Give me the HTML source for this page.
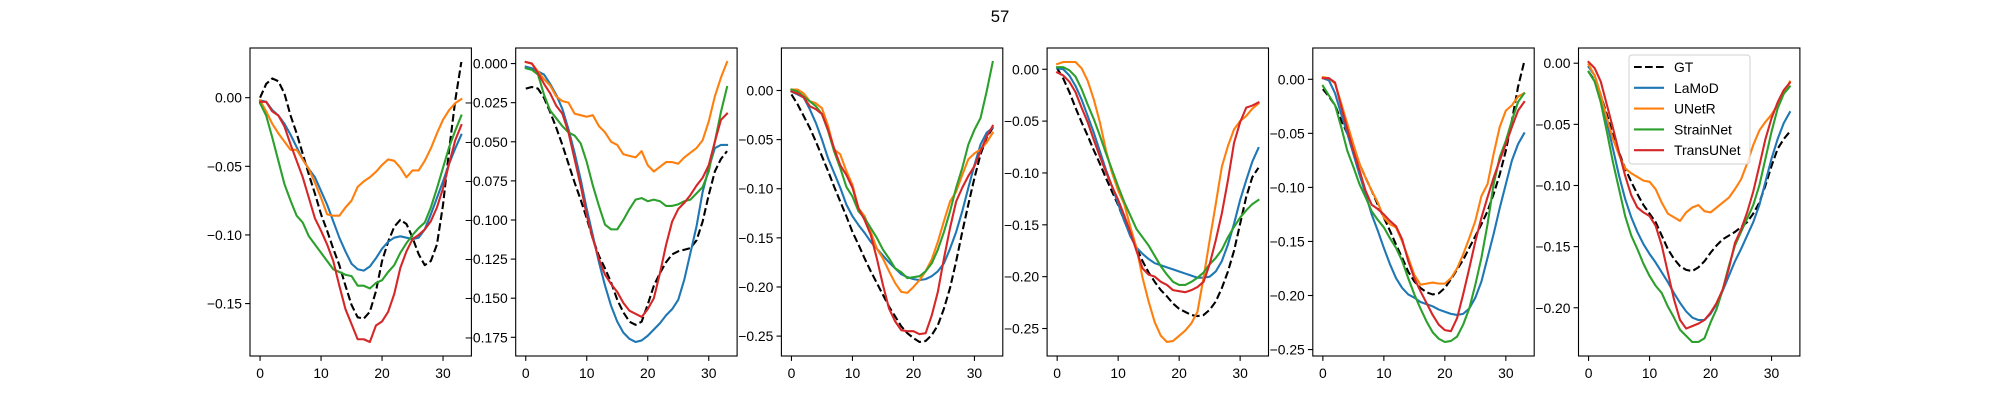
<!DOCTYPE html>
<html><head><meta charset="utf-8"><style>
html,body{margin:0;padding:0;background:#fff;}
svg{display:block;font-family:"Liberation Sans","DejaVu Sans",sans-serif;}
</style></head><body>
<svg id="fig" width="2000" height="400" viewBox="0 0 2000 400">
<rect width="2000" height="400" fill="#fff"/>
<text x="1000" y="22" text-anchor="middle" font-size="16.7">57</text>
</svg>
<script>
const seriesNames = ["GT","LaMoD","UNetR","StrainNet","TransUNet"];
const seriesColors = ["#000000","#1f77b4","#ff7f0e","#2ca02c","#d62728"];
const xTicks = [0,10,20,30];
const yTickSteps = [0.05,0.025,0.05,0.05,0.05,0.05];
const yTickDecimals = [2,3,2,2,2,2];

const p1GT = [0.000,0.010,0.014,0.012,0.003,-0.013,-0.026,-0.041,-0.056,-0.070,-0.085,-0.097,-0.110,-0.122,-0.137,-0.151,-0.160,-0.161,-0.156,-0.141,-0.119,-0.105,-0.094,-0.089,-0.092,-0.102,-0.114,-0.122,-0.119,-0.107,-0.078,-0.038,-0.002,0.026];
const p1LaMoD = [-0.002,-0.003,-0.009,-0.013,-0.019,-0.027,-0.036,-0.045,-0.052,-0.058,-0.068,-0.078,-0.090,-0.102,-0.112,-0.121,-0.125,-0.126,-0.123,-0.117,-0.110,-0.105,-0.102,-0.101,-0.102,-0.103,-0.102,-0.096,-0.085,-0.073,-0.061,-0.048,-0.037,-0.027];
const p1UNetR = [-0.002,-0.010,-0.019,-0.026,-0.032,-0.038,-0.038,-0.045,-0.052,-0.062,-0.073,-0.085,-0.086,-0.086,-0.080,-0.075,-0.065,-0.061,-0.058,-0.054,-0.049,-0.045,-0.046,-0.051,-0.058,-0.053,-0.053,-0.046,-0.037,-0.026,-0.016,-0.009,-0.004,-0.001];
const p1StrainNet = [-0.004,-0.013,-0.029,-0.046,-0.063,-0.075,-0.086,-0.091,-0.101,-0.107,-0.113,-0.119,-0.125,-0.127,-0.129,-0.130,-0.137,-0.137,-0.139,-0.135,-0.133,-0.127,-0.122,-0.113,-0.106,-0.100,-0.095,-0.091,-0.080,-0.066,-0.051,-0.036,-0.024,-0.013];
const p1TransUNet = [-0.003,-0.003,-0.010,-0.013,-0.021,-0.034,-0.046,-0.058,-0.073,-0.088,-0.097,-0.107,-0.119,-0.137,-0.154,-0.165,-0.176,-0.176,-0.178,-0.166,-0.163,-0.156,-0.143,-0.124,-0.112,-0.103,-0.100,-0.096,-0.090,-0.080,-0.066,-0.048,-0.031,-0.020];

const p2GT = [-0.016,-0.015,-0.016,-0.022,-0.031,-0.041,-0.052,-0.064,-0.076,-0.087,-0.099,-0.112,-0.123,-0.131,-0.140,-0.151,-0.159,-0.165,-0.167,-0.165,-0.154,-0.142,-0.134,-0.127,-0.122,-0.120,-0.119,-0.118,-0.113,-0.101,-0.084,-0.069,-0.061,-0.056];
const p2LaMoD = [-0.002,-0.003,-0.005,-0.007,-0.013,-0.020,-0.029,-0.042,-0.057,-0.074,-0.093,-0.110,-0.127,-0.142,-0.155,-0.165,-0.172,-0.176,-0.178,-0.177,-0.174,-0.170,-0.166,-0.161,-0.157,-0.151,-0.138,-0.121,-0.104,-0.082,-0.067,-0.054,-0.052,-0.052];
const p2UNetR = [0.001,0.000,-0.005,-0.010,-0.014,-0.021,-0.024,-0.025,-0.032,-0.033,-0.034,-0.033,-0.040,-0.044,-0.050,-0.052,-0.058,-0.059,-0.060,-0.056,-0.065,-0.069,-0.066,-0.063,-0.063,-0.064,-0.060,-0.057,-0.054,-0.049,-0.037,-0.021,-0.009,0.001];
const p2StrainNet = [-0.003,-0.004,-0.007,-0.020,-0.030,-0.035,-0.040,-0.044,-0.046,-0.051,-0.063,-0.078,-0.091,-0.103,-0.106,-0.106,-0.100,-0.093,-0.087,-0.086,-0.088,-0.087,-0.088,-0.091,-0.091,-0.090,-0.088,-0.087,-0.083,-0.079,-0.069,-0.050,-0.031,-0.015];
const p2TransUNet = [0.001,0.000,-0.006,-0.013,-0.019,-0.027,-0.032,-0.044,-0.061,-0.078,-0.097,-0.112,-0.125,-0.135,-0.141,-0.146,-0.153,-0.158,-0.160,-0.162,-0.157,-0.150,-0.134,-0.116,-0.101,-0.093,-0.089,-0.084,-0.078,-0.073,-0.065,-0.050,-0.036,-0.032];

const p3GT = [-0.004,-0.014,-0.026,-0.038,-0.052,-0.067,-0.082,-0.098,-0.113,-0.128,-0.144,-0.157,-0.171,-0.184,-0.196,-0.208,-0.220,-0.230,-0.240,-0.247,-0.252,-0.256,-0.255,-0.249,-0.239,-0.222,-0.201,-0.174,-0.144,-0.116,-0.089,-0.065,-0.048,-0.038];
const p3LaMoD = [-0.001,-0.004,-0.007,-0.019,-0.033,-0.050,-0.069,-0.084,-0.099,-0.116,-0.128,-0.137,-0.145,-0.154,-0.161,-0.168,-0.175,-0.181,-0.187,-0.190,-0.192,-0.193,-0.192,-0.189,-0.184,-0.176,-0.161,-0.144,-0.123,-0.099,-0.076,-0.055,-0.043,-0.038];
const p3UNetR = [0.001,0.001,-0.003,-0.011,-0.013,-0.018,-0.036,-0.060,-0.065,-0.082,-0.096,-0.120,-0.128,-0.144,-0.161,-0.171,-0.184,-0.196,-0.205,-0.206,-0.200,-0.193,-0.184,-0.172,-0.154,-0.133,-0.113,-0.103,-0.086,-0.070,-0.064,-0.060,-0.053,-0.043];
const p3StrainNet = [0.001,-0.001,-0.006,-0.011,-0.016,-0.024,-0.041,-0.062,-0.079,-0.098,-0.108,-0.123,-0.130,-0.140,-0.150,-0.162,-0.171,-0.181,-0.185,-0.191,-0.190,-0.189,-0.184,-0.176,-0.162,-0.144,-0.123,-0.099,-0.079,-0.055,-0.040,-0.028,-0.001,0.029];
const p3TransUNet = [-0.001,-0.003,-0.007,-0.016,-0.019,-0.024,-0.040,-0.059,-0.076,-0.086,-0.099,-0.120,-0.132,-0.147,-0.171,-0.198,-0.222,-0.235,-0.244,-0.245,-0.245,-0.248,-0.247,-0.229,-0.205,-0.171,-0.140,-0.113,-0.099,-0.087,-0.077,-0.062,-0.047,-0.036];

const p4GT = [0.001,-0.009,-0.022,-0.037,-0.051,-0.064,-0.078,-0.091,-0.105,-0.118,-0.131,-0.146,-0.159,-0.172,-0.185,-0.196,-0.205,-0.213,-0.219,-0.226,-0.231,-0.234,-0.237,-0.238,-0.237,-0.232,-0.224,-0.211,-0.195,-0.175,-0.149,-0.123,-0.104,-0.095];
const p4LaMoD = [0.001,0.000,-0.006,-0.016,-0.029,-0.045,-0.061,-0.079,-0.097,-0.113,-0.130,-0.146,-0.161,-0.172,-0.178,-0.183,-0.187,-0.189,-0.191,-0.193,-0.195,-0.197,-0.199,-0.201,-0.201,-0.200,-0.195,-0.185,-0.169,-0.149,-0.126,-0.107,-0.089,-0.076];
const p4UNetR = [0.005,0.007,0.007,0.007,0.001,-0.011,-0.029,-0.051,-0.078,-0.100,-0.117,-0.130,-0.152,-0.172,-0.201,-0.224,-0.244,-0.257,-0.263,-0.262,-0.257,-0.252,-0.245,-0.234,-0.201,-0.165,-0.130,-0.094,-0.074,-0.058,-0.050,-0.045,-0.038,-0.033];
const p4StrainNet = [0.002,0.002,-0.001,-0.007,-0.019,-0.034,-0.048,-0.064,-0.081,-0.097,-0.113,-0.128,-0.141,-0.154,-0.162,-0.170,-0.180,-0.190,-0.198,-0.205,-0.208,-0.208,-0.205,-0.201,-0.196,-0.188,-0.182,-0.174,-0.162,-0.152,-0.143,-0.136,-0.130,-0.126];
const p4TransUNet = [-0.003,-0.006,-0.012,-0.022,-0.037,-0.051,-0.068,-0.084,-0.099,-0.113,-0.126,-0.141,-0.157,-0.175,-0.192,-0.198,-0.200,-0.205,-0.208,-0.213,-0.214,-0.215,-0.213,-0.210,-0.205,-0.188,-0.165,-0.139,-0.107,-0.071,-0.051,-0.037,-0.035,-0.032];

const p5GT = [-0.009,-0.016,-0.024,-0.038,-0.050,-0.063,-0.078,-0.091,-0.103,-0.116,-0.128,-0.140,-0.153,-0.165,-0.178,-0.187,-0.193,-0.197,-0.199,-0.198,-0.193,-0.185,-0.176,-0.167,-0.156,-0.145,-0.134,-0.122,-0.106,-0.088,-0.066,-0.038,-0.007,0.016];
const p5LaMoD = [0.001,-0.001,-0.013,-0.032,-0.050,-0.069,-0.088,-0.106,-0.125,-0.140,-0.156,-0.171,-0.184,-0.193,-0.199,-0.202,-0.206,-0.208,-0.210,-0.213,-0.215,-0.217,-0.218,-0.217,-0.212,-0.202,-0.187,-0.165,-0.143,-0.119,-0.097,-0.075,-0.060,-0.050];
const p5UNetR = [0.002,0.001,-0.004,-0.022,-0.041,-0.060,-0.078,-0.091,-0.103,-0.114,-0.128,-0.134,-0.137,-0.150,-0.165,-0.181,-0.190,-0.189,-0.188,-0.189,-0.189,-0.184,-0.175,-0.162,-0.147,-0.131,-0.108,-0.097,-0.069,-0.044,-0.029,-0.024,-0.016,-0.013];
const p5StrainNet = [-0.006,-0.015,-0.024,-0.044,-0.066,-0.081,-0.097,-0.109,-0.122,-0.130,-0.137,-0.147,-0.156,-0.168,-0.184,-0.199,-0.212,-0.224,-0.234,-0.240,-0.243,-0.242,-0.238,-0.227,-0.212,-0.190,-0.165,-0.134,-0.097,-0.072,-0.057,-0.038,-0.021,-0.013];
const p5TransUNet = [0.001,0.001,-0.003,-0.025,-0.046,-0.066,-0.084,-0.103,-0.116,-0.120,-0.125,-0.131,-0.136,-0.148,-0.168,-0.184,-0.196,-0.207,-0.218,-0.227,-0.232,-0.233,-0.221,-0.199,-0.175,-0.150,-0.128,-0.109,-0.091,-0.075,-0.060,-0.044,-0.029,-0.021];

const p6GT = [-0.007,-0.014,-0.026,-0.042,-0.059,-0.073,-0.086,-0.097,-0.107,-0.116,-0.123,-0.130,-0.141,-0.152,-0.160,-0.166,-0.169,-0.170,-0.167,-0.162,-0.155,-0.149,-0.144,-0.141,-0.138,-0.134,-0.130,-0.123,-0.114,-0.100,-0.084,-0.070,-0.062,-0.056];
const p6LaMoD = [-0.003,-0.010,-0.026,-0.048,-0.070,-0.092,-0.111,-0.126,-0.138,-0.148,-0.156,-0.163,-0.171,-0.179,-0.188,-0.196,-0.203,-0.208,-0.210,-0.210,-0.205,-0.197,-0.186,-0.174,-0.162,-0.152,-0.141,-0.130,-0.116,-0.097,-0.078,-0.062,-0.049,-0.040];
const p6UNetR = [-0.001,-0.010,-0.026,-0.045,-0.062,-0.075,-0.086,-0.090,-0.093,-0.096,-0.097,-0.103,-0.114,-0.123,-0.126,-0.129,-0.122,-0.118,-0.116,-0.121,-0.122,-0.118,-0.114,-0.110,-0.103,-0.095,-0.082,-0.067,-0.055,-0.048,-0.042,-0.034,-0.025,-0.015];
const p6StrainNet = [-0.007,-0.015,-0.032,-0.056,-0.081,-0.103,-0.125,-0.141,-0.152,-0.164,-0.174,-0.182,-0.188,-0.199,-0.208,-0.218,-0.223,-0.228,-0.228,-0.225,-0.212,-0.201,-0.185,-0.166,-0.149,-0.138,-0.127,-0.116,-0.100,-0.078,-0.056,-0.037,-0.025,-0.019];
const p6TransUNet = [0.001,-0.004,-0.015,-0.034,-0.053,-0.073,-0.092,-0.108,-0.118,-0.122,-0.125,-0.133,-0.149,-0.171,-0.193,-0.210,-0.217,-0.215,-0.213,-0.210,-0.204,-0.196,-0.185,-0.168,-0.147,-0.136,-0.122,-0.105,-0.084,-0.062,-0.045,-0.032,-0.022,-0.016];

const panels = [
  [p1GT,p1LaMoD,p1UNetR,p1StrainNet,p1TransUNet],
  [p2GT,p2LaMoD,p2UNetR,p2StrainNet,p2TransUNet],
  [p3GT,p3LaMoD,p3UNetR,p3StrainNet,p3TransUNet],
  [p4GT,p4LaMoD,p4UNetR,p4StrainNet,p4TransUNet],
  [p5GT,p5LaMoD,p5UNetR,p5StrainNet,p5TransUNet],
  [p6GT,p6LaMoD,p6UNetR,p6StrainNet,p6TransUNet]
];

const NS = "http://www.w3.org/2000/svg";
const svg = document.getElementById("fig");
function mk(tag, attrs, parent) {
  const e = document.createElementNS(NS, tag);
  for (const k in attrs) e.setAttribute(k, attrs[k]);
  (parent || svg).appendChild(e);
  return e;
}
const AX_W = 221.4, AX_GAP = 44.3, AX_TOP = 48, AX_H = 308, AX_LEFT0 = 250;
const FS = 13.9;

panels.forEach((series, p) => {
  const left = AX_LEFT0 + p * (AX_W + AX_GAP);
  const g = mk("g", {});
  
  
  const n = series[0].length;
  const xmin = 0, xmax = n - 1;
  const xpad = (xmax - xmin) * 0.05;
  const x0 = xmin - xpad, x1 = xmax + xpad;
  let ymin = Infinity, ymax = -Infinity;
  series.forEach(s => s.forEach(v => { if (v < ymin) ymin = v; if (v > ymax) ymax = v; }));
  const ypad = (ymax - ymin) * 0.05;
  const y0 = ymin - ypad, y1 = ymax + ypad;
  const sx = v => left + (v - x0) / (x1 - x0) * AX_W;
  const sy = v => AX_TOP + (y1 - v) / (y1 - y0) * AX_H;

  const clipId = "clip" + p;
  const cp = mk("clipPath", { id: clipId }, g);
  mk("rect", { x: left, y: AX_TOP, width: AX_W, height: AX_H }, cp);

  const lines = mk("g", { "clip-path": "url(#" + clipId + ")" }, g);
  series.forEach((s, k) => {
    const d = s.map((v, i) => (i ? "L" : "M") + sx(i).toFixed(2) + " " + sy(v).toFixed(2)).join(" ");
    const path = mk("path", { d: d, fill: "none", stroke: seriesColors[k], "stroke-width": 2.1, "stroke-linejoin": "round", "stroke-linecap": k === 0 ? "butt" : "square" }, lines);
    if (k === 0) path.setAttribute("stroke-dasharray", "7.7 3.3");
    
    
  });

  const frame = mk("rect", { x: left, y: AX_TOP, width: AX_W, height: AX_H, fill: "none", stroke: "#000", "stroke-width": 1.1 }, g);
  
  

  xTicks.forEach(t => {
    const X = sx(t);
    mk("line", { x1: X, x2: X, y1: AX_TOP + AX_H, y2: AX_TOP + AX_H + 4.9, stroke: "#000", "stroke-width": 1.1 }, g);
    const tx = mk("text", { x: X, y: AX_TOP + AX_H + 22, "text-anchor": "middle", "font-size": FS }, g);
    tx.textContent = String(t);
    
    
  });

  const step = yTickSteps[p], dec = yTickDecimals[p];
  const start = Math.ceil(y0 / step - 1e-9), end = Math.floor(y1 / step + 1e-9);
  for (let k = start; k <= end; k++) {
    const v = k * step;
    const Y = sy(v);
    mk("line", { x1: left - 4.9, x2: left, y1: Y, y2: Y, stroke: "#000", "stroke-width": 1.1 }, g);
    let s = Math.abs(v).toFixed(dec);
    if (v < -1e-9) s = "\u2212" + s;
    const ty = mk("text", { x: left - 8, y: Y + 5, "text-anchor": "end", "font-size": FS }, g);
    ty.textContent = s;
    
    
  }

  if (p === panels.length - 1) {
    const lg = mk("g", {}, g);
    
    
    mk("rect", { x: 1629, y: 55, width: 121, height: 109, rx: 3, fill: "#fff", "fill-opacity": 0.8, stroke: "#d0d0d0", "stroke-width": 1 }, lg);
    seriesNames.forEach((nm, k) => {
      const Y = 67 + k * 20.8;
      const ln = mk("line", { x1: 1634, x2: 1664, y1: Y, y2: Y, stroke: seriesColors[k], "stroke-width": 2.1 }, lg);
      if (k === 0) ln.setAttribute("stroke-dasharray", "7.7 3.3");
      const t = mk("text", { x: 1674, y: Y + 5, "font-size": FS }, lg);
      t.textContent = nm;
      
      
    });
  }
});
</script>
</body></html>
